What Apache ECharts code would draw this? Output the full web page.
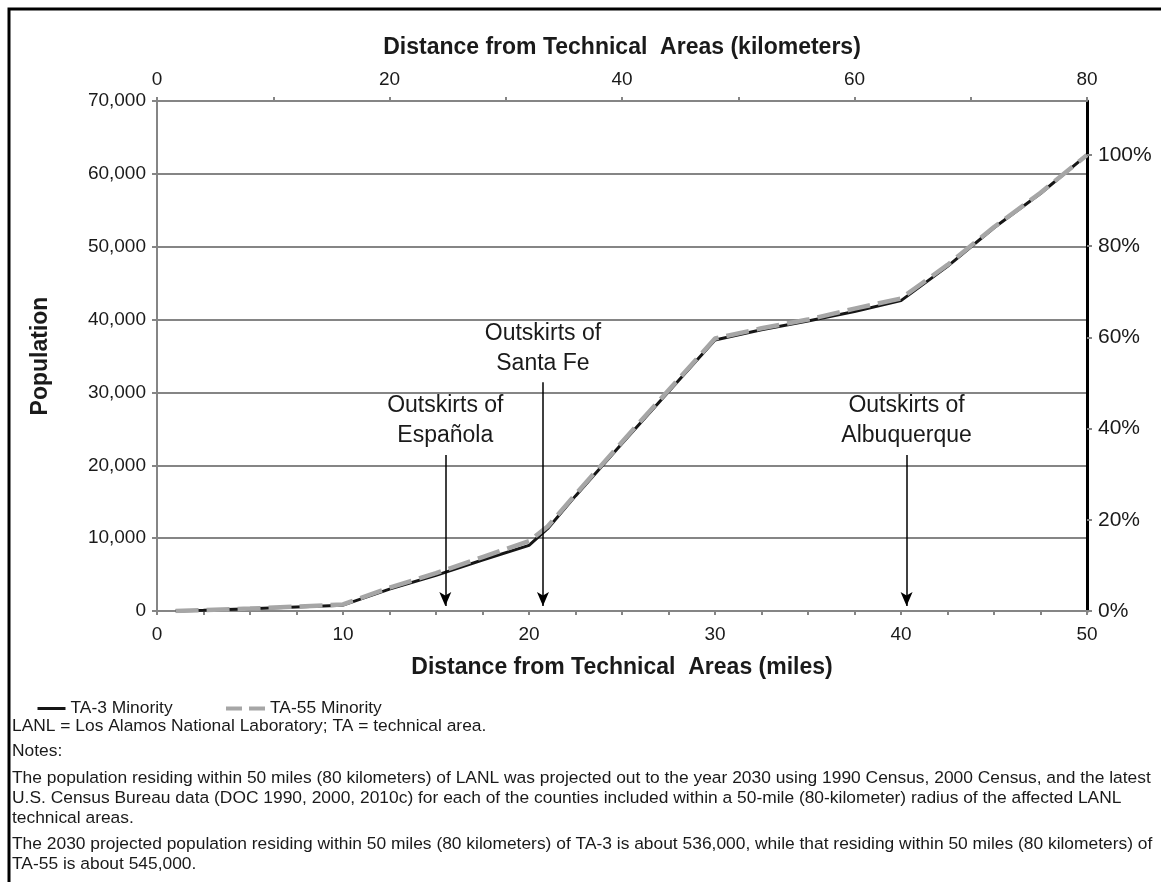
<!DOCTYPE html>
<html>
<head>
<meta charset="utf-8">
<title>Minority population vs distance from technical areas</title>
<script src="https://cdn.jsdelivr.net/npm/echarts@6/dist/echarts.min.js"></script>
<style>
  html, body { margin: 0; padding: 0; background: #fff; }
  #chart { width: 1161px; height: 882px; }
</style>
</head>
<body>
<div id="chart"></div>
<script>
// ---------------------------------------------------------------------------
// data
// ---------------------------------------------------------------------------
const miles = [1, 2.5, 5, 7.5, 10, 12.5, 15, 17.5, 20, 21, 22.5, 25, 27.5, 30, 32.5, 35, 37.5, 40, 42.5, 45, 47.5, 50];
const ta3 = [0, 100, 300, 550, 800, 3000, 4900, 7000, 9000, 11300, 15800, 23000, 30100, 37200, 38600, 39800, 41100, 42600, 47300, 52600, 57300, 62600];
const ta55 = [0, 120, 330, 600, 900, 3200, 5200, 7400, 9600, 11600, 16000, 23200, 30300, 37400, 38800, 40000, 41500, 42900, 47500, 52700, 57400, 62600];

const seriesNames = ["TA-3 Minority", "TA-55 Minority"];

// arrows pointing at the outskirts of towns
const placeNames = ["Outskirts of\nEspañola", "Outskirts of\nSanta Fe", "Outskirts of\nAlbuquerque"];
const placeMiles = [15.5, 20.75, 40.3];
const arrowTop = [21400, 31400, 21400];

// right axis: share of the 50-mile total
const total50 = 62600;

const notes = [
  "LANL = Los Alamos National Laboratory; TA = technical area.",
  "Notes:",
  "The population residing within 50 miles (80 kilometers) of LANL was projected out to the year 2030 using 1990 Census, 2000 Census, and the latest",
  "U.S. Census Bureau data (DOC 1990, 2000, 2010c) for each of the counties included within a 50-mile (80-kilometer) radius of the affected LANL",
  "technical areas.",
  "The 2030 projected population residing within 50 miles (80 kilometers) of TA-3 is about 536,000, while that residing within 50 miles (80 kilometers) of",
  "TA-55 is about 545,000.",
];
const noteY = [725, 750, 777, 797, 817, 843, 863];

// ---------------------------------------------------------------------------
const FONT = '"Liberation Sans", Arial, sans-serif';
const GRID = "#858585";
const TXT = "#1a1a1a";
const NOTE_SIZE = 17.4;

const chart = echarts.init(document.getElementById("chart"), null, { renderer: "canvas" });

const fmtComma = (v) => v.toLocaleString("en-US");

const legendText = { fontSize: NOTE_SIZE, color: TXT, fontFamily: FONT };

chart.setOption({
  backgroundColor: "#fff",
  textStyle: { fontFamily: FONT, color: TXT },
  animation: false,
  grid: { left: 157, right: 74, top: 101, bottom: 271 },
  legend: [
    {
      left: 31,
      top: 695,
      itemWidth: 28,
      itemHeight: 14,
      itemStyle: { opacity: 0 },
      lineStyle: { width: 3, color: "#161616" },
      textStyle: legendText,
      data: [{ name: seriesNames[0] }],
    },
    {
      left: 219,
      top: 695,
      itemWidth: 39,
      itemHeight: 14,
      itemStyle: { opacity: 0 },
      lineStyle: { type: [16, 7], width: 4, color: "#a6a6a6" },
      textStyle: legendText,
      data: [{ name: seriesNames[1] }],
    },
  ],
  xAxis: [
    {
      type: "value",
      position: "bottom",
      min: 0,
      max: 50,
      interval: 2.5,
      name: "Distance from Technical  Areas (miles)",
      nameLocation: "middle",
      nameGap: 45,
      nameTextStyle: { fontSize: 23, fontWeight: "bold", color: TXT },
      axisLine: { show: true, onZero: false, lineStyle: { color: GRID, width: 2 } },
      axisTick: { show: true, length: 4, lineStyle: { color: GRID, width: 2 } },
      axisLabel: {
        fontSize: 19,
        color: TXT,
        margin: 14,
        formatter: (v) => (v % 10 === 0 ? String(v) : ""),
      },
      splitLine: { show: false },
    },
    {
      type: "value",
      position: "top",
      min: 0,
      max: 80,
      interval: 10,
      name: "Distance from Technical  Areas (kilometers)",
      nameLocation: "middle",
      nameGap: 42,
      nameTextStyle: { fontSize: 23, fontWeight: "bold", color: TXT },
      axisLine: { show: true, onZero: false, lineStyle: { color: GRID, width: 2 } },
      axisTick: { show: true, length: 4, lineStyle: { color: GRID, width: 2 } },
      axisLabel: {
        fontSize: 19,
        color: TXT,
        margin: 12,
        formatter: (v) => (v % 20 === 0 ? String(v) : ""),
      },
      splitLine: { show: false },
    },
  ],
  yAxis: [
    {
      type: "value",
      position: "left",
      min: 0,
      max: 70000,
      interval: 10000,
      name: "Population",
      nameLocation: "middle",
      nameGap: 105,
      nameTextStyle: { fontSize: 23, fontWeight: "bold", color: TXT },
      axisLine: { show: true, onZero: false, lineStyle: { color: GRID, width: 2 } },
      axisTick: { show: true, length: 5, lineStyle: { color: GRID, width: 2 } },
      axisLabel: { fontSize: 19, color: TXT, margin: 11, formatter: fmtComma },
      splitLine: { show: true, lineStyle: { color: GRID, width: 2 } },
    },
    {
      type: "value",
      position: "right",
      min: 0,
      max: (70000 / total50) * 100,
      interval: 20,
      axisLine: { show: true, onZero: false, lineStyle: { color: "#000", width: 3 } },
      axisTick: { show: true, length: 5, lineStyle: { color: GRID, width: 2 } },
      axisLabel: {
        fontSize: 21,
        color: TXT,
        margin: 11,
        showMaxLabel: false,
        formatter: (v) => (Math.abs(v % 20) < 0.01 ? v + "%" : ""),
      },
      splitLine: { show: false },
    },
  ],
  series: [
    {
      name: seriesNames[0],
      type: "line",
      xAxisIndex: 0,
      yAxisIndex: 0,
      symbol: "none",
      z: 3,
      data: miles.map((m, i) => [m, ta3[i]]),
      lineStyle: { color: "#161616", width: 3 },
      itemStyle: { color: "#161616" },
      markLine: {
        silent: true,
        symbol: ["none", "arrow"],
        symbolSize: [9, 14],
        lineStyle: { color: "#000", width: 1.5, type: "solid" },
        label: {
          show: true,
          position: "start",
          distance: 4,
          formatter: "{b}",
          fontSize: 23,
          lineHeight: 30,
          color: TXT,
          fontFamily: FONT,
          align: "center",
        },
        data: placeNames.map((n, i) => [
          { name: n, coord: [placeMiles[i], arrowTop[i]] },
          { coord: [placeMiles[i], 700] },
        ]),
      },
    },
    {
      name: seriesNames[1],
      type: "line",
      xAxisIndex: 0,
      yAxisIndex: 0,
      symbol: "none",
      z: 4,
      data: miles.map((m, i) => [m, ta55[i]]),
      lineStyle: { color: "#a6a6a6", width: 4.5, type: [23, 8] },
      itemStyle: { color: "#a6a6a6" },
    },
  ],
  graphic: [
    {
      type: "rect",
      shape: { x: 9, y: 9, width: 1300, height: 1000 },
      style: { fill: null, stroke: "#000", lineWidth: 3 },
      silent: true,
    },
  ].concat(
    notes.map((t, i) => ({
      type: "text",
      left: 12,
      top: noteY[i] - 7,
      style: { text: t, font: NOTE_SIZE + "px " + FONT, fill: TXT },
      silent: true,
    }))
  ),
});

window.addEventListener("resize", () => chart.resize());
</script>
</body>
</html>
